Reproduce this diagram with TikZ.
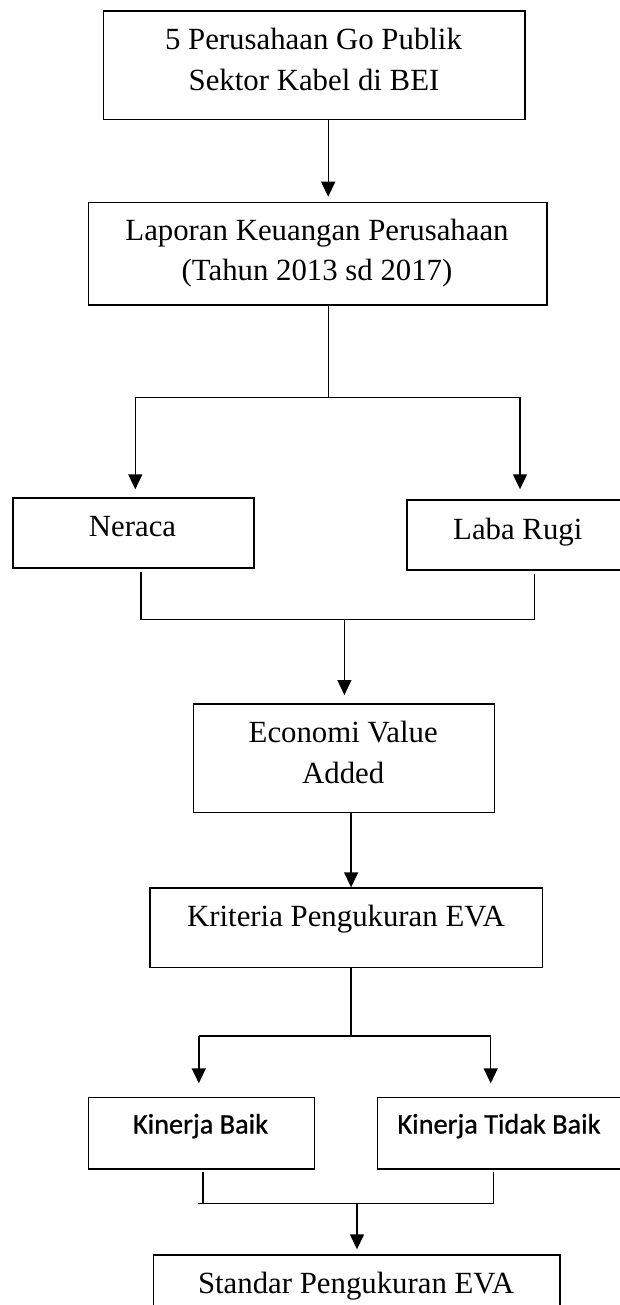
\documentclass[tikz,border=0pt]{standalone}
\usepackage{fontspec}
\setmainfont{Liberation Serif}
\newfontfamily\narrowsans[FakeBold=0.8]{Carlito}
\usetikzlibrary{arrows.meta}
\tikzset{
  box/.style={draw, line width=1.7pt, inner sep=0pt, anchor=north west, fill=none},
  txt/.style={font=\fontsize{30.8pt}{36pt}\selectfont, anchor=base, inner sep=0pt},
  stxt/.style={font=\narrowsans\fontsize{28.3pt}{34pt}\selectfont, anchor=base, inner sep=0pt},
  link/.style={line width=1.4pt},
  arr/.style={link, -{Triangle[width=14pt,length=15pt]}}
}
\begin{document}
\begin{tikzpicture}[x=1pt,y=-1pt]
\useasboundingbox[fill=white] (0,0) rectangle (619,1305);
% boxes
\node[box, minimum width=421.3pt, minimum height=108.7pt] (b1) at (102.6,10) {};
\node[box, minimum width=458.8pt, minimum height=102.6pt] (b2) at (87.6,201.7) {};
\node[box, minimum width=241.1pt, minimum height=70pt] (ner) at (12.2,497) {};
\node[box, minimum width=216pt, minimum height=69.7pt] (lab) at (406.3,499.3) {};
\node[box, minimum width=301pt, minimum height=108.4pt] (eva) at (192.5,703.3) {};
\node[box, minimum width=392.5pt, minimum height=79.4pt] (kri) at (149.1,887.3) {};
\node[box, minimum width=226pt, minimum height=71.6pt] (kb) at (87.6,1096.7) {};
\node[box, minimum width=246pt, minimum height=71.6pt] (ktb) at (376.7,1096.7) {};
\node[box, minimum width=406.7pt, minimum height=80pt] (std) at (152.7,1254) {};
% texts
\node[txt] (t1a) at (313.5,49.3) {5 Perusahaan Go Publik};
\node[txt] (t1b) at (314,90.7) {Sektor Kabel di BEI};
\node[txt] (t2a) at (317,240.5) {Laporan Keuangan Perusahaan};
\node[txt] (t2b) at (317,281) {(Tahun 2013 sd 2017)};
\node[txt] (tn) at (132.5,536.5) {Neraca};
\node[txt] (tl) at (517.8,539) {Laba Rugi};
\node[txt] (te1) at (343.2,742.3) {Economi Value};
\node[txt] (te2) at (343.2,783.3) {Added};
\node[txt] (tk) at (346,926.5) {Kriteria Pengukuran EVA};
\node[stxt] (tkb) at (200.5,1133.5) {Kinerja Baik};
\node[stxt] (tktb) at (499,1133.5) {Kinerja Tidak Baik};
\node[txt] (ts) at (356,1293.3) {Standar Pengukuran EVA};
% junction coordinates
\coordinate (c1) at (328.2,0);
\coordinate (h1) at (328.2,397.3);
\coordinate (hL) at (135.3,397.3);
\coordinate (hR) at (520,397.3);
\coordinate (m1L) at (141,619.5);
\coordinate (m1R) at (534.5,619.5);
\coordinate (m1C) at (344.4,619.5);
\coordinate (c2) at (351.1,0);
\coordinate (h2) at (351,1036);
\coordinate (h2L) at (198.8,1036);
\coordinate (h2R) at (490.7,1036);
\coordinate (m2L) at (203,1203.5);
\coordinate (m2E) at (198,1203.5);
\coordinate (m2R) at (493.5,1203.5);
\coordinate (m2C) at (357,1203.5);
% connectors
\draw[arr, shorten >=5pt] (b1.south -| c1) -- (b2.north -| c1);
\draw[link] (b2.south -| h1) -- (h1);
\draw[link] (hL) -- (hR);
\draw[arr, shorten >=7.7pt] (hL) -- (ner.north -| hL);
\draw[arr, shorten >=10pt] (hR) -- (lab.north -| hR);
\draw[link, shorten <=3.5pt, shorten >=3.7pt] (ner.south -| m1L) -- (m1L) -- (m1R) -- (lab.south -| m1R);
\draw[arr, shorten >=8.3pt] (m1C) -- (eva.north -| m1C);
\draw[arr] (eva.south -| c2) -- (kri.north -| c2);
\draw[link] (kri.south -| h2) -- (h2);
\draw[link] (h2L) -- (h2R);
\draw[arr, shorten >=13.4pt] (h2L) -- (kb.north -| h2L);
\draw[arr, shorten >=13.4pt] (h2R) -- (ktb.north -| h2R);
\draw[link, shorten <=1.7pt] (kb.south -| m2L) -- (m2L);
\draw[link, shorten >=1.7pt] (m2E) -- (m2R) -- (ktb.south -| m2R);
\draw[arr, shorten >=4.7pt] (m2C) -- (std.north -| m2C);
\end{tikzpicture}
\end{document}
